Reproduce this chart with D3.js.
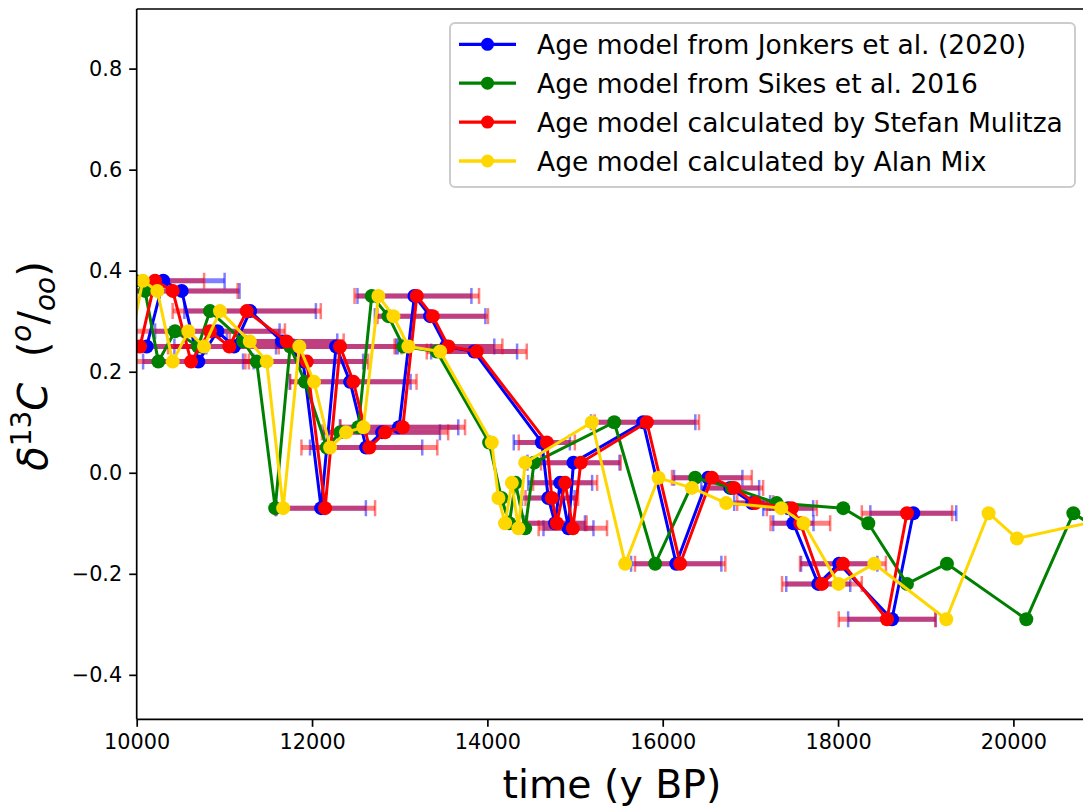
<!DOCTYPE html>
<html>
<head>
<meta charset="utf-8">
<script src="https://cdn.jsdelivr.net/npm/d3@7"></script>
<style>
  html, body { margin: 0; padding: 0; background: #fff; }
  svg { display: block; font-family: "DejaVu Sans", sans-serif; }
</style>
</head>
<body>
<svg id="chart" width="1083" height="807"></svg>
<script>
// δ13C values (shared measurement sequence, same order for every age model)
const d13C = [0.25,0.38,0.36,0.22,0.28,0.25,0.32,0.26,0.22,-0.07,0.25,0.18,0.05,0.08,0.09,0.35,0.31,0.25,0.24,0.06,-0.05,-0.10,-0.02,-0.11,0.02,0.10,-0.18,-0.01,-0.03,-0.06,-0.07,-0.10,-0.22,-0.18,-0.29,-0.08,-0.13,-0.09];

// ages (y BP) per age model
const ageJonkers = [10114,10303,10513,10703,10920,11110,11294,11658,11898,12104,12274,12434,12617,12799,12993,13168,13347,13529,13849,14621,14695,14773,14830,14925,14982,15777,16154,16519,16770,17020,17431,17490,17774,18013,18615,18858];
const ageSikes = [9850,9980,10095,10247,10437,10700,10836,11216,11369,11580,11750,11920,12168,12320,12528,12681,12871,13042,13423,14020,14160,14250,14320,14431,14533,15447,15914,16370,16790,17299,18059,18345,18786,19242,20147,20684,21130];
const ageMulitza = [10038,10209,10411,10620,10836,11057,11255,11711,11940,12149,12320,12472,12654,12833,13035,13195,13377,13556,13879,14678,14735,14792,14887,14975,15066,15819,16199,16561,16815,17055,17473,17570,17816,18056,18558,18786];
const ageMix = [9920,10070,10235,10411,10589,10768,10950,11290,11483,11671,11855,12023,12206,12388,12586,12757,12928,13099,13461,14050,14126,14202,14279,14354,14431,15192,15572,15952,16333,16724,17352,17606,18006,18413,19234,19717,20041,21100];

// age uncertainties (± years)
const errJonkers = [680,700,660,630,710,680,750,630,685,510,685,690,640,660,675,650,630,550,490,320,300,340,365,285,525,595,515,390,330,205,285,230,365,435,500,490];
const errMulitza = [700,560,740,660,855,700,845,650,700,570,700,720,775,720,710,710,630,615,570,320,300,340,365,390,455,595,515,455,330,205,285,340,455,490,550,515];

const seriesNames = ["Age model from Jonkers et al. (2020)","Age model from Sikes et al. 2016","Age model calculated by Stefan Mulitza","Age model calculated by Alan Mix"];
const seriesColors = ["#0000ff","#008000","#ff0000","#ffd700"];
const xTicks = [10000,12000,14000,16000,18000,20000];
const yTicks = [-0.4,-0.2,0.0,0.2,0.4,0.6,0.8];

const svg = d3.select("#chart");
const L = 136.7, T = 9, B = 719.3, R = 1092.3;
const x = d3.scaleLinear().domain([10000, 20900]).range([L, R]);
const y = d3.scaleLinear().domain([-0.488, 0.918]).range([B, T]);

svg.append("defs").append("clipPath").attr("id","clip")
  .append("rect").attr("x", L).attr("y", T).attr("width", R - L).attr("height", B - T);

const plot = svg.append("g").attr("clip-path","url(#clip)");

function toPts(ages) { return ages.map((a,i)=>({x:a, y:d13C[i]})); }
const series = [toPts(ageJonkers), toPts(ageSikes), toPts(ageMulitza), toPts(ageMix)];

// error bars
function errorbars(ages, errs, color) {
  const g = plot.append("g");
  ages.forEach((a,i)=>{
    const yy = y(d13C[i]);
    const x0 = x(a - errs[i]), x1 = x(a + errs[i]);
    g.append("line").attr("x1",x0).attr("x2",x1).attr("y1",yy).attr("y2",yy)
      .attr("stroke",color).attr("stroke-width",5).attr("stroke-opacity",0.5);
    [x0,x1].forEach(cx=>{
      g.append("line").attr("x1",cx).attr("x2",cx).attr("y1",yy-8).attr("y2",yy+8)
        .attr("stroke",color).attr("stroke-width",2.5).attr("stroke-opacity",0.5);
    });
  });
}
errorbars(ageJonkers, errJonkers, "#0000ff");
errorbars(ageMulitza, errMulitza, "#ff0000");

const line = d3.line().x(d=>x(d.x)).y(d=>y(d.y));
series.forEach((pts, k)=>{
  plot.append("path").datum(pts).attr("d", line).attr("fill","none")
    .attr("stroke", seriesColors[k]).attr("stroke-width",3).attr("stroke-linejoin","round");
  plot.append("g").selectAll("circle").data(pts).join("circle")
    .attr("cx", d=>x(d.x)).attr("cy", d=>y(d.y)).attr("r", 7).attr("fill", seriesColors[k]);
});

// axes
const xAxis = d3.axisBottom(x).tickValues(xTicks).tickSize(7.5).tickPadding(7).tickFormat(d3.format("d"));
const gx = svg.append("g").attr("transform",`translate(0,${B})`).call(xAxis);
const yAxis = d3.axisLeft(y).tickValues(yTicks).tickSize(7.5).tickPadding(7).tickFormat(d=>d3.format(".1f")(d).replace("-","\u2212"));
const gy = svg.append("g").attr("transform",`translate(${L},0)`).call(yAxis);
[gx, gy].forEach(g=>{
  g.select(".domain").remove();
  g.selectAll(".tick line").attr("stroke","#000").attr("stroke-width",1.7);
  g.selectAll(".tick text").attr("font-family","DejaVu Sans").attr("font-size",20.8).attr("fill","#000");
});
gx.selectAll(".tick text").attr("dy","0.71em");
// spines
svg.append("line").attr("x1",L).attr("x2",L).attr("y1",T).attr("y2",B).attr("stroke","#000").attr("stroke-width",1.7);
svg.append("line").attr("x1",L).attr("x2",R).attr("y1",B).attr("y2",B).attr("stroke","#000").attr("stroke-width",1.7);
svg.append("line").attr("x1",L).attr("x2",R).attr("y1",T).attr("y2",T).attr("stroke","#000").attr("stroke-width",1.7);

// x label
svg.append("text").attr("x", 612).attr("y", 798).attr("text-anchor","middle")
  .attr("font-size",39.4).attr("fill","#000").text("time (y BP)");

// y label
const yl = svg.append("text").attr("transform","translate(47,366) rotate(-90)")
  .attr("text-anchor","middle").attr("font-size",40).attr("fill","#000");
yl.append("tspan").attr("font-style","italic").text("δ");
yl.append("tspan").attr("font-size",28).attr("dy",-16).text("13");
yl.append("tspan").attr("font-style","italic").attr("dy",16).text("C\u00A0\u00A0");
yl.append("tspan").text("(");
yl.append("tspan").attr("font-style","italic").attr("font-size",28).attr("dy",-16).text("o");
yl.append("tspan").attr("dy",16).text("/");
yl.append("tspan").attr("font-style","italic").attr("font-size",28).attr("dy",8).text("oo");
yl.append("tspan").attr("dy",-8).text(")");

// legend
const lg = svg.append("g");
lg.append("rect").attr("x",450).attr("y",23).attr("width",625).attr("height",164).attr("rx",5)
  .attr("fill","#fff").attr("fill-opacity",0.8).attr("stroke","#cccccc").attr("stroke-width",2);
const ly = [44.3, 83.2, 122.1, 161];
seriesNames.forEach((name,k)=>{
  lg.append("line").attr("x1",459).attr("x2",516).attr("y1",ly[k]).attr("y2",ly[k])
    .attr("stroke",seriesColors[k]).attr("stroke-width",3.3);
  lg.append("circle").attr("cx",487.5).attr("cy",ly[k]).attr("r",6.5).attr("fill",seriesColors[k]);
  lg.append("text").attr("x",537).attr("y",ly[k]+9.6).attr("font-size",26.5).attr("fill","#000").text(name);
});
</script>
</body>
</html>
